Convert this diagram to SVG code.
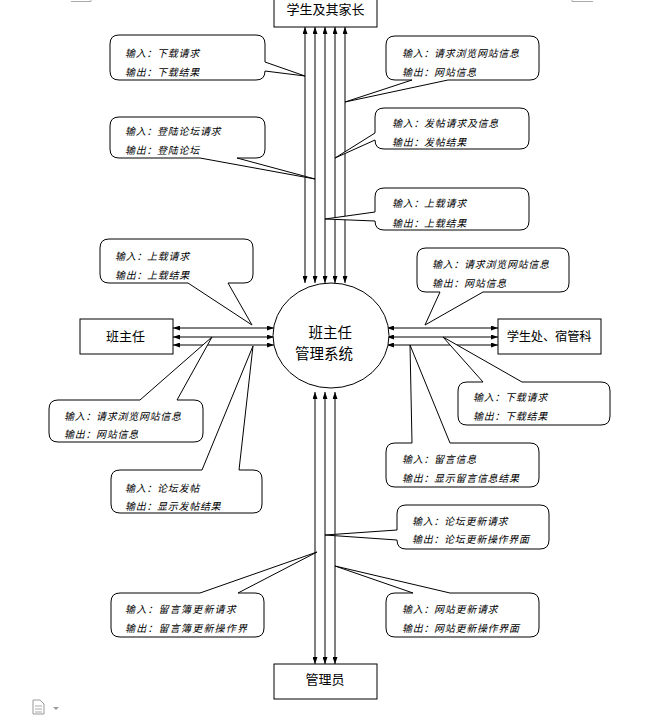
<svg xmlns="http://www.w3.org/2000/svg" width="667" height="719" viewBox="0 0 667 719">
<defs>
<marker id="ah" viewBox="0 0 7 5" refX="7" refY="2.5" markerWidth="7" markerHeight="5" markerUnits="userSpaceOnUse" orient="auto-start-reverse">
<path d="M0,0 L7,2.5 L0,5 z" fill="#000"/>
</marker>
<style>
.box{fill:#fff;stroke:#000;stroke-width:1}
.lbl{font-family:"Liberation Sans","Noto Sans CJK SC",sans-serif;font-size:13px;fill:#000}
.sm{font-size:12.3px;letter-spacing:-0.2px}
.big{font-family:"Liberation Sans","Noto Sans CJK SC",sans-serif;font-size:14.5px;fill:#000}
.co{fill:#fff;stroke:#000;stroke-width:1}
.ct{font-family:"Liberation Sans","Noto Sans CJK SC",sans-serif;font-size:10px;font-style:italic;letter-spacing:0.7px;fill:#000}
.cw{letter-spacing:1.2px}
.ln{stroke:#000;stroke-width:1;fill:none;marker-start:url(#ah);marker-end:url(#ah)}
.ui{fill:none;stroke:#aaa;stroke-width:1}
</style>
</defs>
<rect width="667" height="719" fill="#fff"/>
<g id="marks">
<path class="ui" d="M71,1.5 H91 V0"/>
<path class="ui" d="M593,1.5 H572 V0"/>
<path d="M33,700 H40 L44,704 V714 H33 Z" fill="#fff" stroke="#999"/>
<path d="M35,706 H42 M35,709 H42 M35,712 H42" stroke="#aaa" stroke-width="1"/>
<path d="M53,707 L59,707 L56,710 Z" fill="#999"/>
</g>
<g id="connectors">
<line class="ln" x1="305" y1="283" x2="305" y2="27"/>
<line class="ln" x1="315" y1="283" x2="315" y2="27"/>
<line class="ln" x1="325" y1="283" x2="325" y2="27"/>
<line class="ln" x1="335" y1="283" x2="335" y2="27"/>
<line class="ln" x1="345" y1="283" x2="345" y2="27"/>
<line class="ln" x1="315" y1="392" x2="315" y2="664"/>
<line class="ln" x1="325" y1="392" x2="325" y2="664"/>
<line class="ln" x1="335" y1="392" x2="335" y2="664"/>
<line class="ln" x1="173" y1="328" x2="274" y2="328"/>
<line class="ln" x1="173" y1="337" x2="274" y2="337"/>
<line class="ln" x1="173" y1="345" x2="274" y2="345"/>
<line class="ln" x1="387" y1="328" x2="498" y2="328"/>
<line class="ln" x1="387" y1="337" x2="498" y2="337"/>
<line class="ln" x1="387" y1="345" x2="498" y2="345"/>
</g>
<g id="node-parents">
<rect class="box" x="274" y="-8" width="103" height="35"/>
<text class="lbl" x="325.5" y="14" text-anchor="middle">学生及其家长</text>
</g>
<g id="node-system">
<ellipse class="box" cx="331" cy="335.5" rx="58" ry="52.5"/>
<text class="big" x="352" y="338" text-anchor="end">班主任</text>
<text class="big" x="353" y="359" text-anchor="end">管理系统</text>
</g>
<g id="node-teacher">
<rect class="box" x="80" y="319" width="93" height="35"/>
<text class="lbl" x="125.5" y="341" text-anchor="middle">班主任</text>
</g>
<g id="node-office">
<rect class="box" x="498" y="319" width="103" height="35"/>
<text class="lbl sm" x="549" y="341" text-anchor="middle">学生处、宿管科</text>
</g>
<g id="node-admin">
<rect class="box" x="274" y="664" width="103" height="35"/>
<text class="lbl" x="325" y="684" text-anchor="middle">管理员</text>
</g>
<g id="callout-1">
<path class="co" d="M119,35 H256 Q265,35 265,44 V62 L305,76 L265,71 Q265,80 256,80 H119 Q110,80 110,71 V44 Q110,35 119,35 Z"/>
<text class="ct" x="125" y="57">输入：下载请求</text>
<text class="ct" x="125" y="76">输出：下载结果</text>
</g>
<g id="callout-2">
<path class="co" d="M119,117 H256 Q265,117 265,126 V149 Q265,158 256,158 H237 L315,179 L200,158 H119 Q110,158 110,149 V126 Q110,117 119,117 Z"/>
<text class="ct" x="125" y="135">输入：登陆论坛请求</text>
<text class="ct" x="125" y="154">输出：登陆论坛</text>
</g>
<g id="callout-3">
<path class="co" d="M395,36 H530 Q539,36 539,45 V71 Q539,80 530,80 H448 L345,102 L412,80 H395 Q386,80 386,71 V45 Q386,36 395,36 Z"/>
<text class="ct" x="402" y="57">输入：请求浏览网站信息</text>
<text class="ct" x="402" y="76">输出：网站信息</text>
</g>
<g id="callout-4">
<path class="co" d="M384,108 H520 Q529,108 529,117 V140 Q529,149 520,149 H384 Q375,149 375,140 L335,158 L375,133 V117 Q375,108 384,108 Z"/>
<text class="ct" x="392" y="127">输入：发帖请求及信息</text>
<text class="ct" x="392" y="146">输出：发帖结果</text>
</g>
<g id="callout-5">
<path class="co" d="M384,188 H520 Q529,188 529,197 V221 Q529,230 520,230 H384 Q375,230 375,221 L325,219 L375,212 V197 Q375,188 384,188 Z"/>
<text class="ct" x="392" y="207">输入：上载请求</text>
<text class="ct" x="392" y="227">输出：上载结果</text>
</g>
<g id="callout-6">
<path class="co" d="M109,239 H244 Q253,239 253,248 V274 Q253,283 244,283 H228 L252,325 L188,283 H109 Q100,283 100,274 V248 Q100,239 109,239 Z"/>
<text class="ct" x="115" y="260">输入：上载请求</text>
<text class="ct" x="115" y="279">输出：上载结果</text>
</g>
<g id="callout-7">
<path class="co" d="M58,400 H140 L212,337 L177,400 H194 Q203,400 203,409 V433 Q203,442 194,442 H58 Q49,442 49,433 V409 Q49,400 58,400 Z"/>
<text class="ct" x="64" y="420">输入：请求浏览网站信息</text>
<text class="ct" x="64" y="438">输出：网站信息</text>
</g>
<g id="callout-8">
<path class="co" d="M120,470 H202 L253,346 L239,470 H253 Q262,470 262,479 V504 Q262,513 253,513 H120 Q111,513 111,504 V479 Q111,470 120,470 Z"/>
<text class="ct" x="125" y="492">输入：论坛发帖</text>
<text class="ct" x="125" y="510">输出：显示发帖结果</text>
</g>
<g id="callout-9">
<path class="co" d="M426,248 H560 Q569,248 569,257 V283 Q569,292 560,292 H483 L425,325 L440,292 H426 Q417,292 417,283 V257 Q417,248 426,248 Z"/>
<text class="ct" x="432" y="268">输入：请求浏览网站信息</text>
<text class="ct" x="432" y="287">输出：网站信息</text>
</g>
<g id="callout-10">
<path class="co" d="M467,382 H483 L443,337 L522,382 H601 Q610,382 610,391 V416 Q610,425 601,425 H467 Q458,425 458,416 V391 Q458,382 467,382 Z"/>
<text class="ct" x="473" y="401">输入：下载请求</text>
<text class="ct" x="473" y="420">输出：下载结果</text>
</g>
<g id="callout-11">
<path class="co" d="M395,443 H412 L410,345 L450,443 H530 Q539,443 539,452 V478 Q539,487 530,487 H395 Q386,487 386,478 V452 Q386,443 395,443 Z"/>
<text class="ct" x="402" y="463">输入：留言信息</text>
<text class="ct" x="402" y="482">输出：显示留言信息结果</text>
</g>
<g id="callout-12">
<path class="co" d="M406,505 H540 Q549,505 549,514 V540 Q549,549 540,549 H406 Q397,549 397,540 L325,535 L397,530 V514 Q397,505 406,505 Z"/>
<text class="ct" x="412" y="525">输入：论坛更新请求</text>
<text class="ct" x="412" y="543">输出：论坛更新操作界面</text>
</g>
<g id="callout-13">
<path class="co" d="M120,593 H200 L317,552 L238,593 H255 Q264,593 264,602 V628 Q264,637 255,637 H120 Q111,637 111,628 V602 Q111,593 120,593 Z"/>
<text class="ct cw" x="125" y="613">输入：留言簿更新请求</text>
<text class="ct cw" x="125" y="632">输出：留言簿更新操作界</text>
</g>
<g id="callout-14">
<path class="co" d="M395,593 H413 L335,566 L450,593 H530 Q539,593 539,602 V628 Q539,637 530,637 H395 Q386,637 386,628 V602 Q386,593 395,593 Z"/>
<text class="ct" x="402" y="613">输入：网站更新请求</text>
<text class="ct" x="402" y="632">输出：网站更新操作界面</text>
</g>
</svg>
